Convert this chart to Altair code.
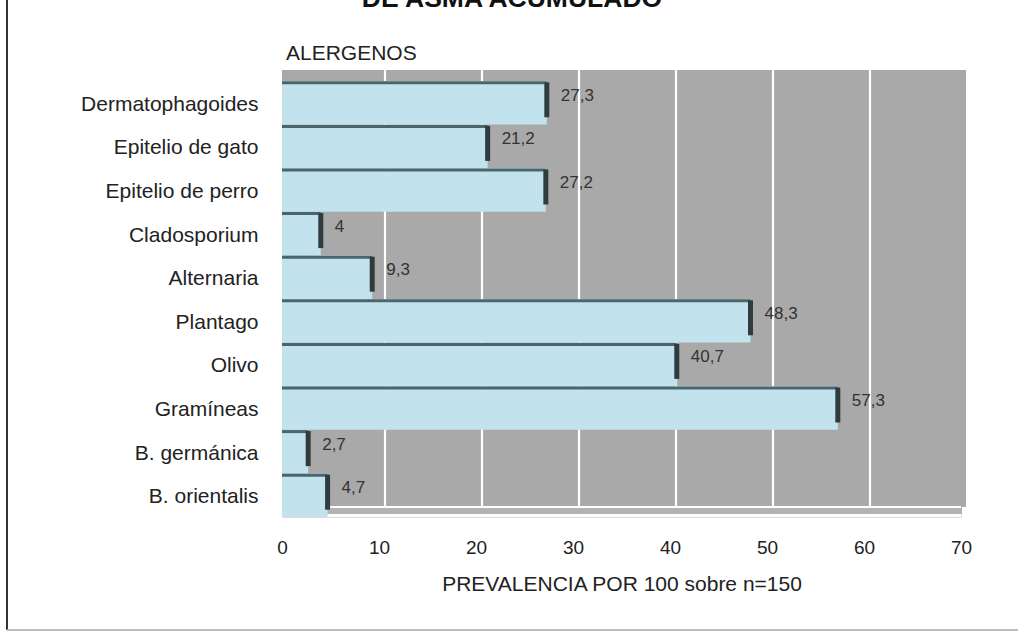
import altair as alt
import pandas as pd

categories = ["Dermatophagoides", "Epitelio de gato", "Epitelio de perro", "Cladosporium",
              "Alternaria", "Plantago", "Olivo", "Gramíneas", "B. germánica", "B. orientalis"]
values = [27.3, 21.2, 27.2, 4, 9.3, 48.3, 40.7, 57.3, 2.7, 4.7]
labels = ["27,3", "21,2", "27,2", "4", "9,3", "48,3", "40,7", "57,3", "2,7", "4,7"]
x_ticks = [0, 10, 20, 30, 40, 50, 60, 70]
grid_vals = [10, 20, 30, 40, 50, 60]

df = pd.DataFrame({"cat": categories, "val": values, "lab": labels})
grid_df = pd.DataFrame({"g": grid_vals})

FONT = "Liberation Sans"
W, H = 679, 436

xs = alt.Scale(domain=[0, 70], nice=False, zero=True)
ys = alt.Scale(domain=categories, paddingInner=0, paddingOuter=0)

x_axis = alt.Axis(values=x_ticks, ticks=False, domain=False, grid=False,
                  labelFontSize=19, labelColor="#222", labelFont=FONT,
                  labelPadding=21, labelFlush=False,
                  title="PREVALENCIA POR 100 sobre n=150",
                  titleFont=FONT, titleFontSize=21, titleFontWeight="normal",
                  titleColor="#222", titlePadding=16)
y_axis = alt.Axis(ticks=False, domain=False, grid=False, labelFontSize=21,
                  labelColor="#222", labelFont=FONT, labelPadding=24,
                  labelOffset=2, title=None, labelLimit=400)

base = alt.Chart(df)

one = pd.DataFrame({"a": [0]})

wall = alt.Chart(one).mark_rect(color="#a9a9a9", x2Offset=5).encode(
    x=alt.datum(0, scale=xs, axis=x_axis),
    x2=alt.datum(70),
    y=alt.value(-11), y2=alt.value(426)
)

floor = alt.Chart(one).mark_rect(color="#b3b3b3", x2Offset=1).encode(
    x=alt.datum(0, scale=xs), x2=alt.datum(70),
    y=alt.value(426), y2=alt.value(433)
)

floor_line = alt.Chart(one).mark_rule(color="white", strokeWidth=2).encode(
    x=alt.datum(0, scale=xs), x2=alt.datum(70),
    y=alt.value(426)
)

grid = alt.Chart(grid_df).mark_rule(color="white", strokeWidth=2.2, xOffset=6).encode(
    x=alt.X("g:Q", scale=xs),
    y=alt.value(-11), y2=alt.value(426)
)

bars = base.mark_bar(color="#c2e3ee").encode(
    x=alt.X("val:Q", scale=xs, axis=x_axis),
    y=alt.Y("cat:N", scale=ys, axis=y_axis, sort=categories)
)

top_edge = base.mark_bar(color="#4b666b", height=3, yOffset=-20).encode(
    x=alt.X("val:Q", scale=xs),
    y=alt.Y("cat:N", scale=ys, sort=categories)
)

side = base.mark_tick(orient="vertical", color="#2f3c3e", thickness=5, size=35,
                      yOffset=-3, opacity=1).encode(
    x=alt.X("val:Q", scale=xs),
    y=alt.Y("cat:N", scale=ys, sort=categories)
)

val_text = base.mark_text(align="left", baseline="middle", dx=14, dy=-7,
                          fontSize=17, font=FONT, color="#333").encode(
    x=alt.X("val:Q", scale=xs),
    y=alt.Y("cat:N", scale=ys, sort=categories),
    text="lab:N"
)

alerg = alt.Chart(pd.DataFrame({"t": ["ALERGENOS"]})).mark_text(
    align="left", baseline="middle", fontSize=21, font=FONT, color="#222"
).encode(x=alt.value(4), y=alt.value(-27), text="t:N")

title_txt = alt.Chart(pd.DataFrame({"t": ["DE ASMA ACUMULADO"]})).mark_text(
    align="center", baseline="alphabetic", fontSize=26.5, fontWeight="bold",
    font=FONT, color="#111"
).encode(x=alt.value(230), y=alt.value(-74), text="t:N")

left_border = alt.Chart(one).mark_rule(color="#333", strokeWidth=2).encode(
    x=alt.value(-275), y=alt.value(-81), y2=alt.value(549)
)
bottom_border = alt.Chart(one).mark_rule(color="#bbbbbb", strokeWidth=2).encode(
    x=alt.value(-275), x2=alt.value(736), y=alt.value(549)
)

chart = alt.layer(
    wall, grid, floor, floor_line, bars, top_edge, side, val_text, alerg, title_txt,
    left_border, bottom_border
).properties(
    width=W, height=H,
    autosize=alt.AutoSizeParams(type="none"),
    padding={"left": 282, "top": 81, "right": 57, "bottom": 116}
).configure_view(stroke=None).configure(background="white")

chart.save("out.html", embed_options={"renderer": "svg", "actions": False})
